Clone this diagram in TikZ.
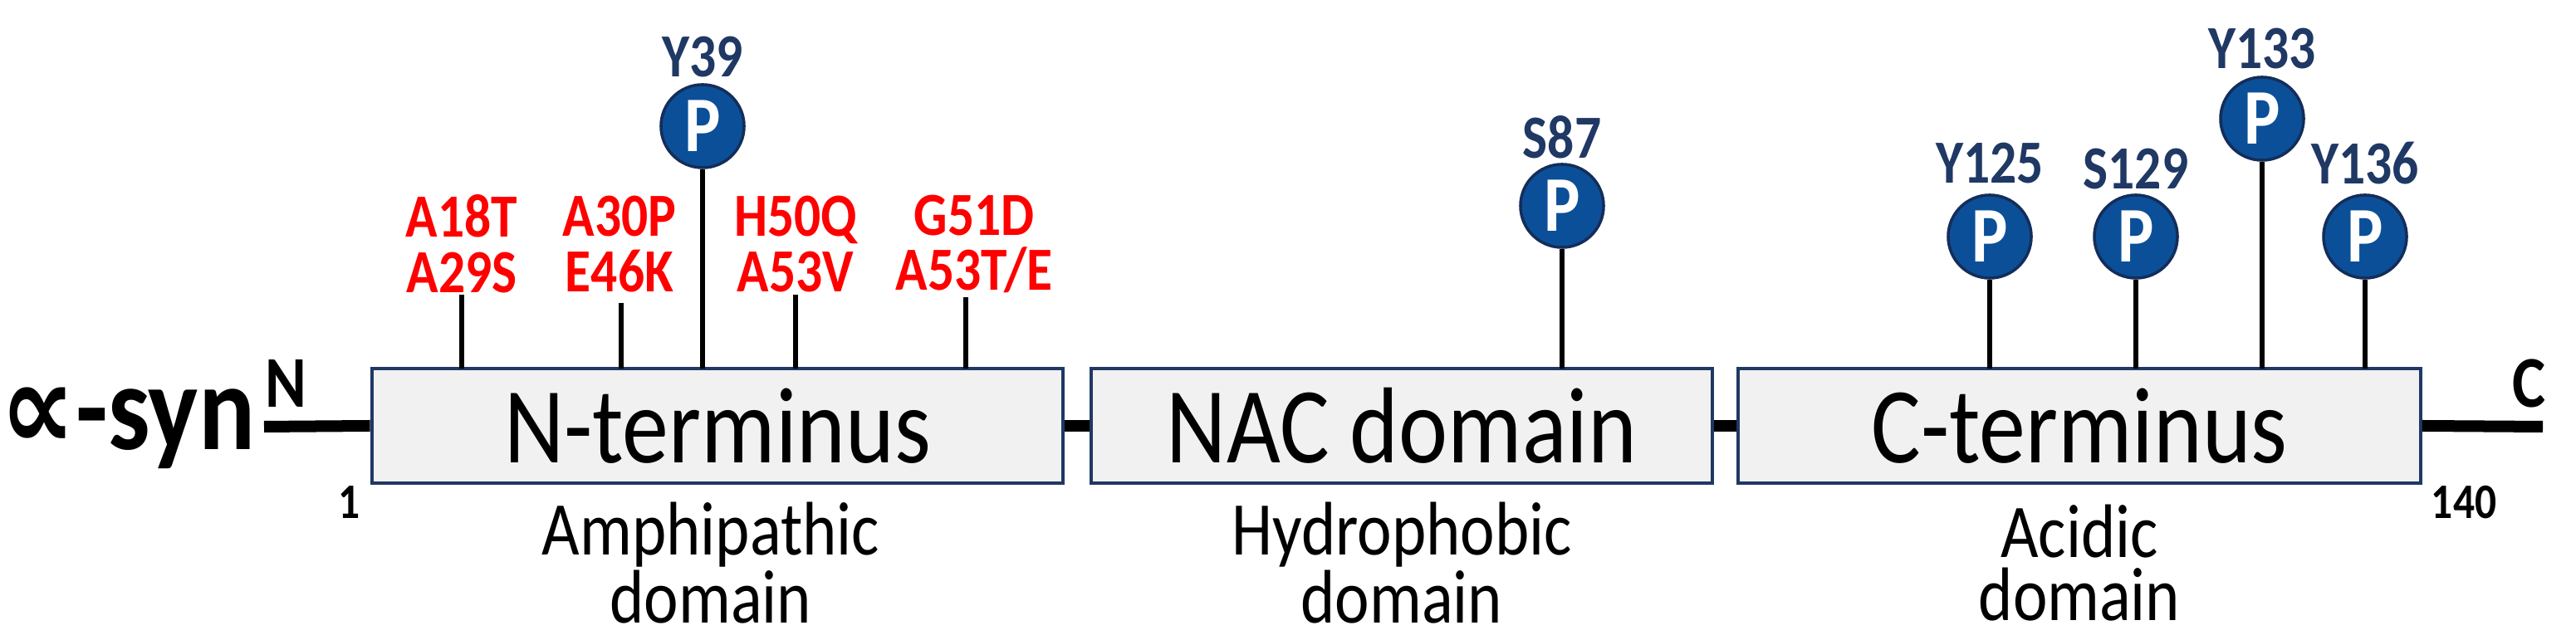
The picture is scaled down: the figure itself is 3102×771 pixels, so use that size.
\documentclass[tikz,border=0pt]{standalone}
\usepackage{fontspec}
\setmainfont[FakeStretch=0.86]{Carlito}
\newfontfamily\dv[FakeStretch=0.86]{DejaVu Sans}
\begin{document}
\begin{tikzpicture}[x=0.01cm,y=-0.01cm,
  dom/.style={draw={rgb,255:red,31;green,56;blue,100},line width=1.2pt,fill={rgb,255:red,241;green,241;blue,241},inner sep=0pt,font=\fontsize{37}{37}\selectfont},
  sub/.style={font=\fontsize{26}{21.5}\selectfont,align=center},
  mut/.style={text=red,font=\bfseries\fontsize{21}{19}\selectfont,align=center},
  pl/.style={text={rgb,255:red,31;green,56;blue,100},font=\bfseries\fontsize{21}{20}\selectfont},
  ph/.style={circle,draw={rgb,255:red,20;green,45;blue,90},line width=1pt,fill={rgb,255:red,11;green,79;blue,152},text=white,font=\bfseries\fontsize{27}{27}\selectfont,minimum size=1.0cm,inner sep=0pt},
  stem/.style={line width=0.055cm,draw=black},
  bb/.style={line width=0.14cm}]
\useasboundingbox (0,0) rectangle (3102,771);
% domains
\node[dom,minimum width=8.32cm,minimum height=1.38cm] (nt) at (864,513) {N-terminus};
\node[dom,minimum width=7.47cm,minimum height=1.38cm] (nac) at (1688,513) {NAC domain};
\node[dom,minimum width=8.21cm,minimum height=1.38cm] (ct) at (2504,513) {C-terminus};
% backbone
\coordinate (bs) at (318,514);
\coordinate (be) at (3062,514);
\draw[bb] (bs) -- (nt.west);
\draw[bb] (nt.east) -- (nac.west);
\draw[bb] (nac.east) -- (ct.west);
\draw[bb] (ct.east) -- (be);
\node[font=\bfseries\fontsize{42}{42}\selectfont,anchor=east,inner sep=0pt] (syn) at (308,516) {{\dv ∝}-syn};
\node[font=\bfseries\fontsize{25}{25}\selectfont] (nl) at (344,462) {N};
\node[font=\bfseries\fontsize{25}{25}\selectfont] (cl) at (3045,462) {C};
\node[font=\bfseries\fontsize{17}{17}\selectfont] (one) at (421,605) {1};
\node[font=\bfseries\fontsize{17}{17}\selectfont] (end) at (2967,605) {140};
% sub labels
\node[sub] (s1) at (856,678) {Amphipathic\\domain};
\node[sub] (s2) at (1688,678) {Hydrophobic\\domain};
\node[sub] (s3) at (2504,678) {Acidic\\domain};
% mutations
\node[mut] (m1) at (556,294) {A18T\\A29S};
\node[mut] (m2) at (746,294) {A30P\\E46K};
\node[mut] (m3) at (958,294) {H50Q\\A53V};
\node[mut] (m4) at (1173,294) {G51D\\A53T/E};
\coordinate (t1) at (556,444); \coordinate (t2) at (748,444);
\coordinate (t3) at (958,444); \coordinate (t4) at (1163,444);
\coordinate (u1) at (556,355); \coordinate (u2) at (748,365);
\coordinate (u3) at (958,355); \coordinate (u4) at (1163,358);
\draw[stem] (u1) -- (t1);
\draw[stem] (u2) -- (t2);
\draw[stem] (u3) -- (t3);
\draw[stem] (u4) -- (t4);
% phosphosites
\foreach \n/\x/\cy/\ly/\lab in {p39/846/152/69/Y39, p87/1881/248/165/S87, p125/2396/285/197/Y125, p129/2572/285/204/S129, p133/2724/143/59/Y133, p136/2848/285/197/Y136}{
  \node[ph] (\n) at (\x,\cy) {P};
  \node[pl] (\n l) at (\x,\ly) {\lab};
  \coordinate (\n b) at (\x,444);
  \draw[stem] (\n.south) -- (\n b);
}
\end{tikzpicture}
\end{document}
